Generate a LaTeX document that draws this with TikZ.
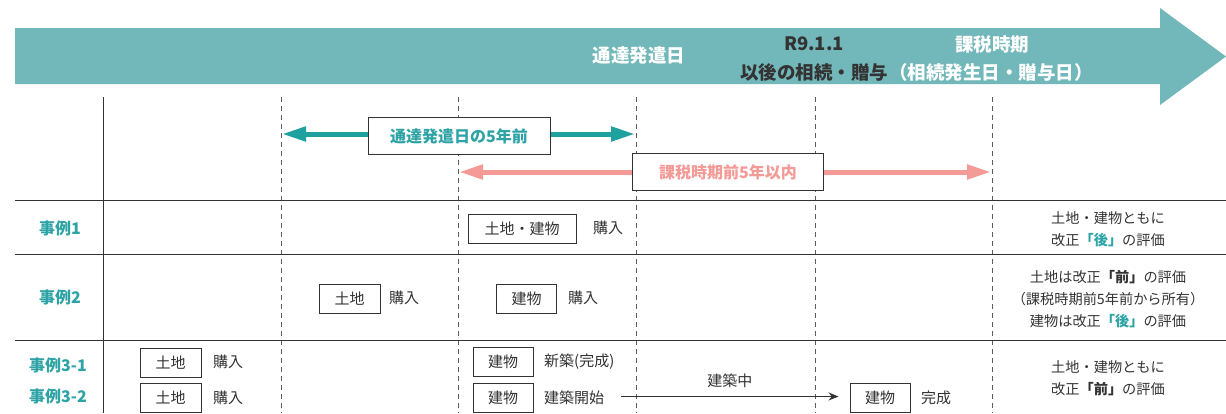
\documentclass[tikz,border=0pt]{standalone}
\usepackage{fontspec}
\setmainfont{Noto Sans CJK JP}
\usetikzlibrary{arrows.meta}
\definecolor{bannerc}{HTML}{72B7B9}
\definecolor{tealA}{HTML}{1FA29F}
\definecolor{tealT}{HTML}{2DA3A5}
\definecolor{pinkA}{HTML}{F49A97}
\definecolor{darkT}{HTML}{333333}
\tikzset{
  vdash/.style={draw=darkT!80, dashed, dash pattern=on 5pt off 4pt, line width=0.8pt},
  rule/.style={draw=darkT, line width=0.9pt},
  itembox/.style={draw=darkT, line width=1pt, fill=white, minimum height=29pt, inner xsep=6pt, font=\fontsize{15}{17}\selectfont, text=darkT},
  plain/.style={font=\fontsize{15}{17}\selectfont, text=darkT, inner sep=0pt},
  caselbl/.style={font=\fontsize{16}{18}\selectfont\bfseries, text=tealT, inner sep=0pt},
  result/.style={font=\fontsize{14.2}{21.7}\selectfont, text=darkT, align=center, inner sep=0pt},
  bantext/.style={font=\fontsize{18.5}{20}\selectfont\bfseries, inner sep=0pt},
  spanbox/.style={draw=darkT, line width=1pt, fill=white, minimum height=37pt, font=\fontsize{16}{18}\selectfont\bfseries},
  tealarrow/.style={draw=tealA, line width=5pt, {Triangle[length=24pt,width=14pt]}-{Triangle[length=24pt,width=14pt]}},
  pinkarrow/.style={draw=pinkA, line width=5pt, {Triangle[length=24pt,width=14pt]}-{Triangle[length=24pt,width=14pt]}},
}
\begin{document}
\begin{tikzpicture}[x=1pt,y=-1pt]
\useasboundingbox (0,0) rectangle (1226,413);
% banner
\fill[bannerc] (15,28) -- (1160,28) -- (1160,8) -- (1226,56.5) -- (1160,105) -- (1160,84) -- (15,84) -- cycle;
\node[bantext, text=white] (b1) at (639,56) {通達発遣日};
\node[bantext, text=darkT] (b2) at (814,44) {R9.1.1};
\node[bantext, text=darkT] (b3) at (814,72) {以後の相続・贈与};
\node[bantext, text=white] (b4) at (992,44) {課税時期};
\node[bantext, text=white] (b5) at (991,72) {（相続発生日・贈与日）};
% vertical lines
\foreach \n/\x in {a/281,b/458,c/636,d/815,e/992}{
  \coordinate (\n t) at (\x,97);
  \coordinate (\n b) at (\x,413);
  \draw[vdash] (\n t) -- (\n b);
}
\coordinate (st) at (103,97);
\coordinate (sb) at (103,413);
\draw[rule] (st) -- (sb);
% horizontal rules
\foreach \n/\y in {r1/200,r2/254,r3/340}{
  \coordinate (\n l) at (15,\y);
  \coordinate (\n r) at (1226,\y);
  \draw[rule] (\n l) -- (\n r);
}
% span arrows
\coordinate (ta) at (282,134);
\coordinate (tb) at (635,134);
\draw[tealarrow] (ta) -- (tb);
\node[spanbox, text=tealT, minimum width=182pt] (tlab) at (459,136) {通達発遣日の5年前};
\coordinate (pa) at (459,172);
\coordinate (pb) at (991,172);
\draw[pinkarrow] (pa) -- (pb);
\node[spanbox, text=pinkA, minimum width=191pt] (plab) at (728,172) {課税時期前5年以内};
% case 1
\node[caselbl] (c1) at (60,228) {事例1};
\node[itembox, minimum width=108pt] (c1box) at (522,229) {土地・建物};
\node[plain, anchor=west] (c1t) at (593,228) {購入};
\node[result] (c1r) at (1108,229) {土地・建物ともに\\改正\textcolor{tealT}{\bfseries「後」}の評価};
% case 2
\node[caselbl] (c2) at (60,297) {事例2};
\node[itembox, minimum width=61pt] (c2a) at (349.5,298.5) {土地};
\node[plain, anchor=west] (c2at) at (389,298) {購入};
\node[itembox, minimum width=60pt] (c2b) at (526.5,299) {建物};
\node[plain, anchor=west] (c2bt) at (568,298) {購入};
\node[result] (c2r) at (1108,299) {土地は改正{\bfseries「前」}の評価\\（課税時期前5年前から所有）\\建物は改正\textcolor{tealT}{\bfseries「後」}の評価};
% case 3
\node[caselbl] (c31) at (58,365) {事例3-1};
\node[caselbl] (c32) at (58,396) {事例3-2};
\node[itembox, minimum width=61pt] (c31a) at (170.5,362.5) {土地};
\node[plain, anchor=west] (c31at) at (213,362) {購入};
\node[itembox, minimum width=61pt] (c32a) at (170.5,398) {土地};
\node[plain, anchor=west] (c32at) at (213,398) {購入};
\node[itembox, minimum width=60pt] (c31b) at (503,362) {建物};
\node[plain, anchor=west] (c31bt) at (544,362) {新築(完成)};
\node[itembox, minimum width=60pt] (c32b) at (503,398) {建物};
\node[plain, anchor=west] (c32bt) at (544,398) {建築開始};
\node[itembox, minimum width=60pt] (c32c) at (880,398) {建物};
\node[plain, anchor=west] (c32ct) at (921,398) {完成};
\draw[darkT, line width=0.9pt, -{Stealth[length=10pt,width=8pt]}] ([xshift=17pt,yshift=1.5pt]c32bt.east) -- ([xshift=-11pt,yshift=1.5pt]c32c.west) node[midway, above=8pt, plain] (mid) {建築中};
\node[result] (c3r) at (1108,378) {土地・建物ともに\\改正{\bfseries「前」}の評価};
\end{tikzpicture}
\end{document}
